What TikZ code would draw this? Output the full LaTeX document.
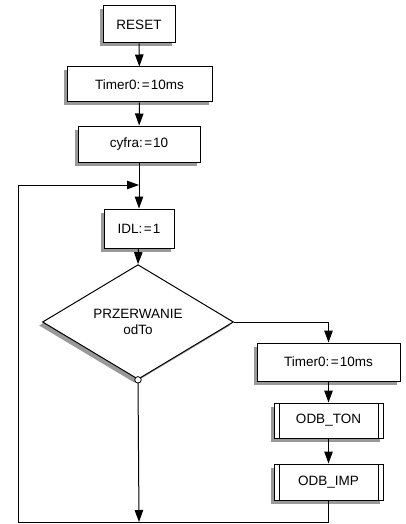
\documentclass[tikz,border=0pt]{standalone}
\usepackage{fontspec}
\setmainfont{Liberation Sans}
\usetikzlibrary{shapes.geometric,arrows.meta}
\begin{document}
\begin{tikzpicture}[x=1pt,y=1pt,
  font=\fontsize{13.5}{16}\selectfont,
  line width=1pt,
  shad/.style={preaction={fill=black!40,draw=none,transform canvas={xshift=-3.5pt,yshift=-3.5pt}}},
  box/.style={draw,rectangle,fill=white,inner sep=0pt,shad},
  subr/.style={box,path picture={
     \draw ([xshift=5pt]path picture bounding box.north west) -- ([xshift=5pt]path picture bounding box.south west);
     \draw ([xshift=-5pt]path picture bounding box.north east) -- ([xshift=-5pt]path picture bounding box.south east);}},
  dec/.style={draw,diamond,fill=white,inner sep=0pt,minimum width=191pt,minimum height=100pt,align=center,shad},
  arr/.style={-{Triangle[length=12pt,width=8.5pt]}},
  pt/.style={draw,circle,fill=white,inner sep=0pt,minimum size=6.5pt,line width=0.8pt}]
\useasboundingbox (0,0) rectangle (406,-524);
\node[box,minimum width=72pt,minimum height=37pt] (reset) at (139,-24.5) {RESET};
\node[box,minimum width=145pt,minimum height=35pt] (tim1) at (139.5,-84.5) {Timer0:\hspace{1.5pt}=\hspace{1pt}10ms};
\node[box,minimum width=122pt,minimum height=36pt] (cyfra) at (139,-144) {cyfra:\hspace{1.5pt}=\hspace{1pt}10};
\node[box,minimum width=70pt,minimum height=39pt] (idl) at (139,-228.5) {IDL:\hspace{1.5pt}=\hspace{1pt}1};
\node[dec] (dec) at (138,-322) {PRZERWANIE\\odTo};
\node[box,minimum width=143pt,minimum height=38pt] (tim2) at (328.5,-362) {Timer0:\hspace{1.5pt}=\hspace{1pt}10ms};
\node[subr,minimum width=109pt,minimum height=35pt] (ton) at (328.5,-420.5) {ODB\_TON};
\node[subr,minimum width=109pt,minimum height=36pt] (imp) at (328.5,-482) {ODB\_IMP};
\coordinate (join) at (139,-185);
\coordinate (bl) at (18,-522);
\coordinate (tl) at (18,-185);
\coordinate (bm) at (139,-522);
\coordinate (br) at (328.5,-522);
\draw[arr] (reset) -- (tim1);
\draw[arr] (tim1) -- (cyfra);
\draw[arr] (cyfra) -- (idl);
\draw[arr] (idl) -- (dec.north);
\draw[arr] (dec.east) -| (tim2.north);
\draw[arr] (tim2) -- (ton);
\draw[arr] (ton) -- (imp);
\draw[arr] (dec.south) -- (bm);
\draw[arr] (imp.south) -- (br) -- (bl) -- (tl) -- (join);
\node[pt] (nope) at (dec.south) {};
\end{tikzpicture}
\end{document}
